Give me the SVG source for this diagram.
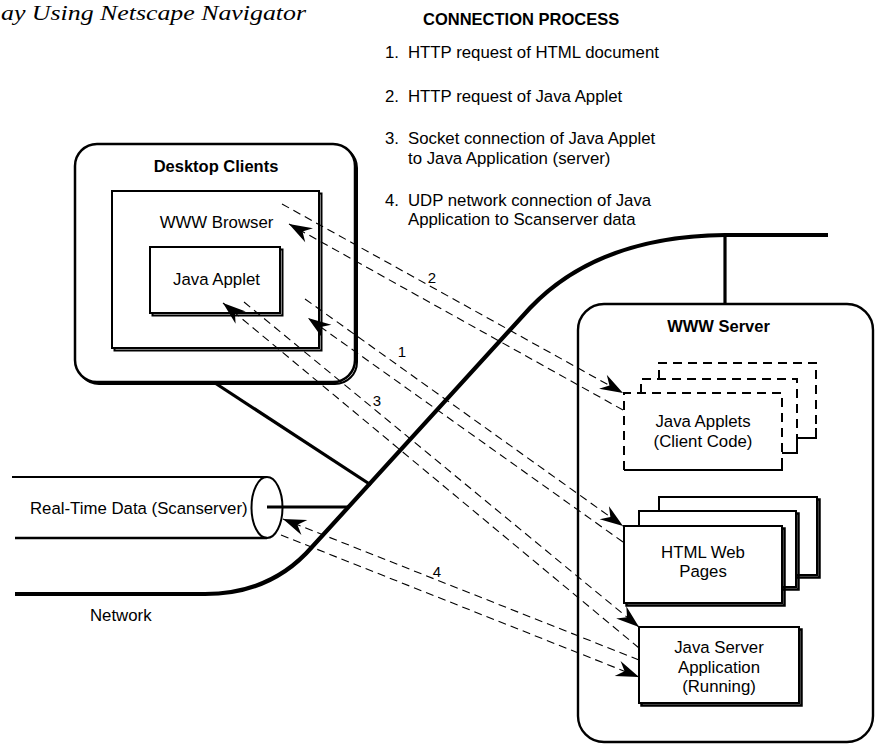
<svg xmlns="http://www.w3.org/2000/svg" width="876" height="744" viewBox="0 0 876 744">
<style>
.t{font-family:"Liberation Sans",Arial,Helvetica,sans-serif;font-size:16.8px;fill:#000}
.b{font-weight:bold;font-size:16.5px}
.m{text-anchor:middle}
.lbl{font-size:15px}
.dash{fill:none;stroke:#000;stroke-width:1.1;stroke-dasharray:8 5}
.box{fill:#fff;stroke:#000;stroke-width:2}
.sh{fill:none;stroke:#000;stroke-width:2}
.net{fill:none;stroke:#000;stroke-width:4.2}
.link{fill:none;stroke:#000;stroke-width:3.2}
.pg{fill:none;stroke:#000;stroke-width:2;stroke-dasharray:9 6}
.pgs{fill:none;stroke:#000;stroke-width:2}
.wf{fill:#fff;stroke:none}
</style>
<defs>
<marker id="ah" markerUnits="userSpaceOnUse" viewBox="-24 -10 26 20" refX="0" refY="0" markerWidth="26" markerHeight="20" orient="auto">
<path d="M0,0 L-23,-8 L-15.5,0 L-23,8 Z" fill="#000" stroke="none"/>
</marker>
</defs>
<rect x="0" y="0" width="876" height="744" fill="#fff"/>

<text x="1" y="20" font-family="'Liberation Serif',Times,serif" font-style="italic" font-size="22" textLength="305" lengthAdjust="spacingAndGlyphs">ay Using Netscape Navigator</text>

<g id="legend" class="t">
<text x="423" y="25" class="b">CONNECTION PROCESS</text>
<text x="385" y="58">1.</text><text x="408" y="58">HTTP request of HTML document</text>
<text x="385" y="102">2.</text><text x="408" y="102">HTTP request of Java Applet</text>
<text x="385" y="144">3.</text><text x="408" y="144">Socket connection of Java Applet</text>
<text x="408" y="163.5">to Java Application (server)</text>
<text x="385" y="205.5">4.</text><text x="408" y="205.5">UDP network connection of Java</text>
<text x="408" y="225">Application to Scanserver data</text>
</g>

<g id="network">
<path class="net" d="M15,594 H205 C250,594 285,578 312,547 L530,308 C570,266 630,236 725,235 H828"/>
<path class="link" d="M215,383 L371,485"/>
<path class="link" d="M267,507 H348"/>
<path class="link" d="M725,235 V304"/>
<text class="t" x="90" y="621">Network</text>
</g>

<g id="desktop-clients">
<rect x="77" y="146" width="280" height="238" rx="22" class="sh"/>
<rect x="75" y="144" width="280" height="238" rx="22" class="box" style="stroke-width:2.5"/>
<text class="t b m" x="216" y="172">Desktop Clients</text>
</g>

<g id="www-browser">
<rect x="114.5" y="193.5" width="207" height="157" class="sh"/>
<rect x="112" y="191" width="207" height="157" class="box"/>
<text class="t m" x="216.5" y="228">WWW Browser</text>
</g>

<g id="java-applet">
<rect x="152.5" y="249.5" width="130" height="66" class="sh"/>
<rect x="150" y="247" width="130" height="66" class="box"/>
<text class="t m" x="216.5" y="285">Java Applet</text>
</g>

<g id="realtime-data">
<path class="pgs" d="M12,477 H267"/>
<path class="pgs" style="stroke-width:2.6" d="M15,538 H267"/>
<ellipse cx="267" cy="507.5" rx="15.5" ry="30.5" fill="none" stroke="#000" stroke-width="2"/>
<text class="t" x="30" y="514">Real-Time Data (Scanserver)</text>
</g>

<g id="www-server">
<rect x="578" y="304" width="295" height="438" rx="26" class="box" style="stroke-width:2.4"/>
<text class="t b m" x="718.5" y="332">WWW Server</text>
</g>

<g id="java-applets">
<rect x="659" y="363" width="157" height="75" class="wf"/>
<path class="pg" d="M659,379 V363 H816 V428"/>
<path class="pgs" d="M797,438 H816 V428"/>
<rect x="641" y="379" width="156" height="74" class="wf"/>
<path class="pg" d="M641,393 V379 H797 V443"/>
<path class="pgs" d="M782,453 H797 V443"/>
<rect x="624" y="393" width="158" height="77" class="wf"/>
<path class="pg" d="M624,470 V393 H782 V460"/>
<path class="pgs" d="M624,470 H782 V460"/>
<text class="t m" x="703" y="427">Java Applets</text>
<text class="t m" x="703" y="447">(Client Code)</text>
</g>

<g id="html-pages">
<rect x="661.5" y="499.5" width="158" height="78" class="sh" style="stroke-width:2.5"/>
<rect x="659" y="497" width="158" height="78" class="box"/>
<rect x="641.5" y="513.5" width="157" height="76" class="sh" style="stroke-width:2.5"/>
<rect x="639" y="511" width="157" height="76" class="box"/>
<rect x="626.5" y="528.5" width="158" height="77" class="sh" style="stroke-width:2.5"/>
<rect x="624" y="526" width="158" height="77" class="box"/>
<text class="t m" x="703" y="558">HTML Web</text>
<text class="t m" x="703" y="577">Pages</text>
</g>

<g id="java-server-app">
<rect x="641.5" y="629.5" width="160" height="76" class="sh" style="stroke-width:2.5"/>
<rect x="639" y="627" width="160" height="76" class="box"/>
<text class="t m" x="719" y="653">Java Server</text>
<text class="t m" x="719" y="673">Application</text>
<text class="t m" x="719" y="692">(Running)</text>
</g>

<g id="connectors">
<path class="dash" d="M282,204 L623,393" marker-end="url(#ah)"/>
<path class="dash" d="M623,410 L289,224" marker-end="url(#ah)"/>
<path class="dash" d="M305,299 L623,526" marker-end="url(#ah)"/>
<path class="dash" d="M623,542 L308,318" marker-end="url(#ah)"/>
<path class="dash" d="M244,302 L639,627" marker-end="url(#ah)"/>
<path class="dash" d="M639,648 L223,303" marker-end="url(#ah)"/>
<path class="dash" d="M639,660 L283,519" marker-end="url(#ah)"/>
<path class="dash" d="M281,535 L639,677" marker-end="url(#ah)"/>
<text class="t lbl m" x="432" y="283">2</text>
<text class="t lbl m" x="402" y="357">1</text>
<text class="t lbl m" x="377" y="406">3</text>
<text class="t lbl m" x="437" y="577">4</text>
</g>
</svg>
